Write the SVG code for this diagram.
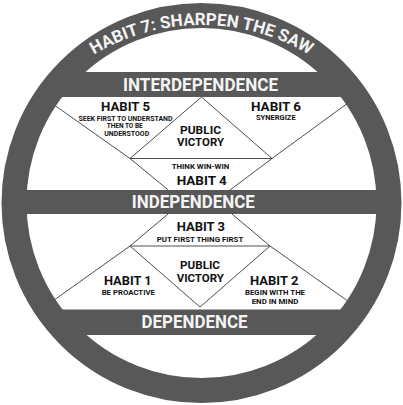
<svg xmlns="http://www.w3.org/2000/svg" width="403" height="405" viewBox="0 0 403 405">
<style>
.ring{fill:none;stroke:#585858;stroke-width:25}
.band{fill:#585858}
.ln{fill:none;stroke:#3a3a3a;stroke-width:0.9}
text{font-family:Roboto,"Liberation Sans",sans-serif;font-weight:700;text-anchor:middle}
.bt{fill:#f4f4f4;font-size:19px}
.h{fill:#111;font-size:13px}
.s{fill:#111;font-size:6.8px}
.pv{fill:#111;font-size:10.8px}
.arc{fill:#f4f4f4;font-size:17px}
</style>
<defs>
<clipPath id="inner"><circle cx="201.5" cy="203" r="188"/></clipPath>
<path id="arcPath" d="M -8.5 235 A 210 210 0 0 1 411.5 235"/>
</defs>
<rect width="403" height="405" fill="#ffffff"/>
<g id="connectors">
<polyline class="ln" points="50,102 130,158.5 168.3,190"/>
<polyline class="ln" points="352,100 272,158.5 230,190"/>
<polyline class="ln" points="130,158.5 201.5,97 272,158.5"/>
<line class="ln" x1="130" y1="158.5" x2="272" y2="158.5"/>
<polyline class="ln" points="168,214 130,246 50,303"/>
<polyline class="ln" points="232,214 270,246 352,304"/>
<polyline class="ln" points="130,246 200,307 270,246"/>
<line class="ln" x1="130" y1="246" x2="270" y2="246"/>
</g>
<g id="bands" clip-path="url(#inner)">
<rect class="band" x="0" y="72" width="403" height="25"/>
<rect class="band" x="0" y="190" width="403" height="24"/>
<rect class="band" x="0" y="309.5" width="403" height="25.5"/>
</g>
<circle id="ring" class="ring" cx="201.5" cy="203" r="187.5"/>
<g id="habit7"><text class="arc" textLength="226" lengthAdjust="spacingAndGlyphs"><textPath href="#arcPath" startOffset="50%">HABIT 7: SHARPEN THE SAW</textPath></text></g>
<g id="interdependence"><text class="bt" x="200.5" y="90.7" textLength="155" lengthAdjust="spacingAndGlyphs">INTERDEPENDENCE</text></g>
<g id="independence"><text class="bt" x="193.3" y="208.3" textLength="123" lengthAdjust="spacingAndGlyphs">INDEPENDENCE</text></g>
<g id="dependence"><text class="bt" x="194.5" y="328.3" textLength="106" lengthAdjust="spacingAndGlyphs">DEPENDENCE</text></g>
<g id="habit5">
<text class="h" x="125.5" y="111" textLength="49" lengthAdjust="spacingAndGlyphs">HABIT 5</text>
<text class="s" x="125.5" y="121" textLength="94" lengthAdjust="spacingAndGlyphs">SEEK FIRST TO UNDERSTAND</text>
<text class="s" x="124.7" y="128.3" textLength="36" lengthAdjust="spacingAndGlyphs">THEN TO BE</text>
<text class="s" x="126.7" y="135.7" textLength="45" lengthAdjust="spacingAndGlyphs">UNDERSTOOD</text>
</g>
<g id="public-victory-upper">
<text class="pv" x="200.5" y="133.6" textLength="41" lengthAdjust="spacingAndGlyphs">PUBLIC</text>
<text class="pv" x="200.5" y="146.2" textLength="47" lengthAdjust="spacingAndGlyphs">VICTORY</text>
</g>
<g id="habit6">
<text class="h" x="276" y="111" textLength="50" lengthAdjust="spacingAndGlyphs">HABIT 6</text>
<text class="s" x="275.8" y="120" textLength="39.7" lengthAdjust="spacingAndGlyphs">SYNERGIZE</text>
</g>
<g id="habit4">
<text class="s" x="200.5" y="169" textLength="57.6" lengthAdjust="spacingAndGlyphs">THINK WIN-WIN</text>
<text class="h" x="201.7" y="184.5" textLength="50" lengthAdjust="spacingAndGlyphs">HABIT 4</text>
</g>
<g id="habit3">
<text class="h" x="200.8" y="230.7" textLength="48.3" lengthAdjust="spacingAndGlyphs">HABIT 3</text>
<text class="s" x="200" y="241.5" textLength="86.6" lengthAdjust="spacingAndGlyphs">PUT FIRST THING FIRST</text>
</g>
<g id="public-victory-lower">
<text class="pv" x="200" y="269.4" textLength="40" lengthAdjust="spacingAndGlyphs">PUBLIC</text>
<text class="pv" x="200.3" y="282" textLength="47.3" lengthAdjust="spacingAndGlyphs">VICTORY</text>
</g>
<g id="habit1">
<text class="h" x="127.8" y="285" textLength="47.7" lengthAdjust="spacingAndGlyphs">HABIT 1</text>
<text class="s" x="128.3" y="295" textLength="53.3" lengthAdjust="spacingAndGlyphs">BE PROACTIVE</text>
</g>
<g id="habit2">
<text class="h" x="274.2" y="284.5" textLength="48.3" lengthAdjust="spacingAndGlyphs">HABIT 2</text>
<text class="s" x="275" y="295" textLength="60" lengthAdjust="spacingAndGlyphs">BEGIN WITH THE</text>
<text class="s" x="275" y="304" textLength="46.6" lengthAdjust="spacingAndGlyphs">END IN MIND</text>
</g>
</svg>
